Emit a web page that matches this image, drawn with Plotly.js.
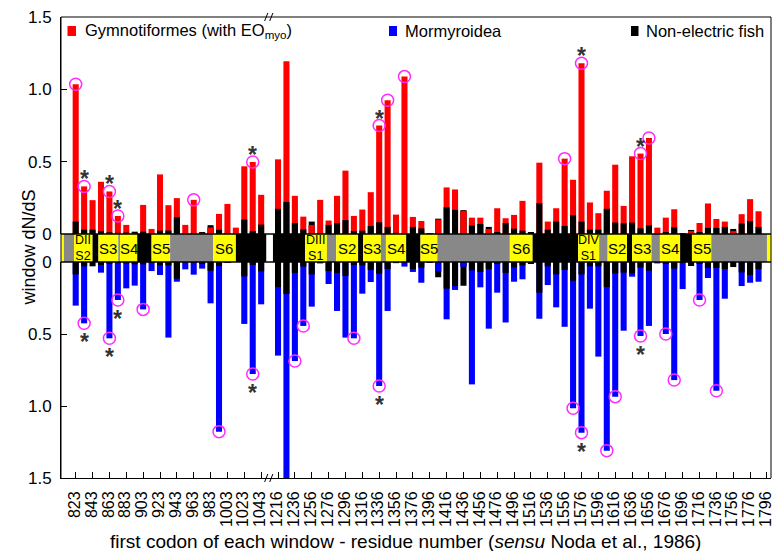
<!DOCTYPE html>
<html><head><meta charset="utf-8">
<script src="https://cdn.plot.ly/plotly-3.0.1.min.js"></script>
<style>html,body{margin:0;padding:0;background:#fff;}#chart{width:773px;height:551px;}</style>
</head><body><div id="chart"></div>
<script>
// ---------------- data ----------------
const windows = [823,833,843,853,863,873,883,893,903,913,923,933,943,953,963,973,983,993,1003,1013,1023,1033,1043,
  1216,1226,1236,1246,1256,1266,1276,1286,1296,1306,1316,1326,1336,1346,1356,1366,1376,1386,1396,1406,1416,1426,1436,1446,
  1456,1466,1476,1486,1496,1506,1516,1526,1536,1546,1556,1566,1576,1586,1596,1606,1616,1626,1636,1646,1656,1666,1676,1686,
  1696,1706,1716,1726,1736,1746,1756,1766,1776,1786];
const gymnotiformes = [1.035,0.329,0.234,0.361,0.294,0.125,0.063,0.005,0.201,0.035,0.412,0.199,0.248,0.063,0.236,0.008,0.045,0.139,0.208,0.044,0.468,0.498,0.271,
  0.516,1.194,0.264,0.120,0.062,0.236,0.093,0.264,0.438,0.125,0.169,0.289,0.750,0.924,0.134,1.088,0.118,0.090,0.003,0.100,0.322,0.308,0.160,0.113,
  0.113,0.035,0.178,0.109,0.132,0.229,0.000,0.493,0.086,0.178,0.521,0.375,1.180,0.218,0.144,0.299,0.479,0.194,0.537,0.556,0.664,0.044,0.113,0.171,
  0.005,0.020,0.076,0.211,0.104,0.086,0.020,0.137,0.241,0.157];
const mormyroidea = [0.303,0.426,0.000,0.074,0.530,0.264,0.183,0.164,0.329,0.063,0.090,0.525,0.137,0.051,0.088,0.046,0.287,1.178,0.005,0.000,0.430,0.778,0.294,
  0.650,1.550,0.688,0.444,0.310,0.010,0.153,0.340,0.525,0.530,0.220,0.139,0.861,0.340,0.000,0.032,0.069,0.144,0.000,0.065,0.398,0.194,0.032,0.850,
  0.176,0.463,0.213,0.420,0.137,0.120,0.000,0.394,0.160,0.315,0.450,1.016,1.185,0.324,0.657,1.310,0.935,0.477,0.102,0.514,0.444,0.010,0.500,0.820,
  0.188,0.000,0.264,0.111,0.894,0.255,0.000,0.167,0.144,0.137];
const nonElectric = [0.086,0.030,0.030,0.021,0.012,0.008,0.010,0.016,0.016,0.006,0.023,0.024,0.116,0.000,0.005,0.014,0.061,0.029,0.006,0.000,0.100,0.020,0.065,
  0.174,0.222,0.076,0.032,0.086,0.005,0.063,0.076,0.097,0.021,0.023,0.056,0.081,0.049,0.008,0.000,0.049,0.039,0.007,0.106,0.185,0.167,0.165,0.058,
  0.069,0.049,0.014,0.076,0.037,0.023,0.014,0.213,0.030,0.086,0.056,0.130,0.086,0.030,0.030,0.174,0.079,0.074,0.079,0.039,0.060,0.000,0.014,0.046,
  0.005,0.028,0.014,0.042,0.042,0.049,0.035,0.072,0.090,0.049];
const tickLabels = ['823','843','863','883','903','923','943','963','983','1003','1023','1043',
  '1216','1236','1256','1276','1296','1316','1336','1356','1376','1396','1416','1436','1456','1476','1496','1516','1536','1556',
  '1576','1596','1616','1636','1656','1676','1696','1716','1736','1756','1776','1796'];
const yTickLabels = ['0','0.5','1.0','1.5'];
const yTickValues = [0,0.5,1,1.5];
const circledTop = [823,833,863,873,963,1033,1336,1346,1366,1556,1576,1646,1656];
const starredTop = [833,863,873,1033,1336,1576,1646];
const circledBottom = [833,863,873,903,993,1033,1236,1246,1306,1336,1566,1576,1606,1616,1646,1676,1686,1716,1736];
const starredBottom = [833,863,873,1033,1336,1576,1646];
// domain band (residue numbers)
const bandFrom = [806,809,821,843,850,873.5,875.5,896,913,935,986,1013,1210,1248,1274,1285,1311,1317,1338,1344,1368,1385,1405,1491,1518,1572,1597,1607,1630,1636,1659,1669,1693,1707,1730,1796];
const bandTo   = [809,821,843,850,873.5,875.5,896,913,935,986,1013,1049,1248,1274,1285,1311,1317,1338,1344,1368,1385,1405,1491,1518,1572,1597,1607,1630,1636,1659,1669,1693,1707,1730,1796,1803];
const bandKind = ['h','l','h','d','h','l','h','d','h','l','h','d','d','h','l','h','d','h','l','h','d','h','l','h','d','h','l','h','d','h','l','h','d','h','l','h'];
const bandText = ['','','DII\nS2','','S3','','S4','','S5','','S6','','','DIII\nS1','','S2','','S3','','S4','','S5','','S6','','DIV\nS1','','S2','','S3','','S4','','S5','',''];
const legendNames = ['Gymnotiformes (with EO<sub>myo</sub>)','Mormyroidea','Non-electric fish'];

// ---------------- geometry / style ----------------
const W=773,H=551,L=61,R=2,T=17,B=73;
const plotW=W-L-R, plotH=H-T-B;
const px = x => (x-L)/plotW;
const py = y => (H-B-y)/plotH;
const bandTopPx=234, bandBotPx=262;
const slot0Px=75.7, slotPx=8.43;
function slot(r){ return r < 1100 ? (r-823)/10 : 24 + (r-1216)/10; }
const FONT='Liberation Sans, Arial, sans-serif';
const RED='#ff0000', BLUE='#0000ff', BLACK='#000000', MAG='#ff2cff';
const kindColor = {h:'#ffff00', l:'#888888', d:'#000000'};

const xs = windows.map(slot);
const idx = w => windows.indexOf(w);
const redFront = gymnotiformes.map((v,i)=> v < nonElectric[i] ? v : null);
const blueFront = mormyroidea.map((v,i)=> v < nonElectric[i] ? v : null);

function bar(y, color, ya){
  return {type:'bar', x:xs, y:y, width:0.72, marker:{color:color, line:{width:0}},
    xaxis:'x', yaxis:ya, showlegend:false, hoverinfo:'skip'};
}
const traces = [
  bar(gymnotiformes, RED, 'y'), bar(nonElectric, BLACK, 'y'), bar(redFront, RED, 'y'),
  bar(mormyroidea, BLUE, 'y2'), bar(nonElectric, BLACK, 'y2'), bar(blueFront, BLUE, 'y2'),
  {type:'scatter', mode:'markers', x:circledTop.map(slot), y:circledTop.map(w=>gymnotiformes[idx(w)]),
   xaxis:'x', yaxis:'y', cliponaxis:false, showlegend:false, hoverinfo:'skip',
   marker:{symbol:'circle-open', size:12, color:MAG, line:{width:1.5, color:MAG}}},
  {type:'scatter', mode:'markers', x:circledBottom.map(slot), y:circledBottom.map(w=>mormyroidea[idx(w)]),
   xaxis:'x', yaxis:'y2', cliponaxis:false, showlegend:false, hoverinfo:'skip',
   marker:{symbol:'circle-open', size:12, color:MAG, line:{width:1.5, color:MAG}}}
];

const tickVals = tickLabels.map(t=>slot(+t));
const shapes = [], annotations = [];
// band segments
bandFrom.forEach((f,i)=>{
  shapes.push({type:'rect', xref:'x', yref:'paper', x0:slot(f), x1:slot(bandTo[i]), y0:py(bandBotPx), y1:py(bandTopPx),
    fillcolor:kindColor[bandKind[i]], line:{width:0}, layer:'above'});
  if(bandText[i]){
    const two = bandText[i].indexOf('\n')>=0;
    const cx = (slot(f)+slot(bandTo[i]))/2;
    annotations.push({xref:'x', yref:'paper', x:cx, y:py(248), text:bandText[i].replace('\n','<br>'), showarrow:false,
      xanchor:'center', yanchor:'middle', font:{family:FONT, size: two ? 12.5 : 15, color:'#000'}});
  }
});
// band borders and frame
shapes.push({type:'line', xref:'paper', yref:'paper', x0:0, x1:1, y0:py(bandTopPx), y1:py(bandTopPx), line:{color:'#000', width:1.5}, layer:'above'});
shapes.push({type:'line', xref:'paper', yref:'paper', x0:0, x1:1, y0:py(bandBotPx), y1:py(bandBotPx), line:{color:'#000', width:1.5}, layer:'above'});
shapes.push({type:'line', xref:'paper', yref:'paper', x0:0, x1:1, y0:1, y1:1, line:{color:'#000', width:1}});
shapes.push({type:'line', xref:'paper', yref:'paper', x0:0, x1:0, y0:0, y1:1, line:{color:'#000', width:1}});
shapes.push({type:'line', xref:'paper', yref:'paper', x0:1, x1:1, y0:0, y1:1, line:{color:'#000', width:1}});
// axis break marks
[1, 0].forEach(yy=>{
  [22.6, 23.2].forEach(sx=>{
    shapes.push({type:'line', xref:'x', yref:'paper', xsizemode:'pixel', ysizemode:'pixel', xanchor:sx, yanchor:yy,
      x0:-1.6, x1:1.6, y0:-4, y1:4, line:{color:'#000', width:1}});
  });
});
// asterisks
starredTop.forEach(w=>annotations.push({xref:'x', yref:'y', x:slot(w), y:gymnotiformes[idx(w)], text:'<b>*</b>', showarrow:false,
  xanchor:'center', yanchor:'middle', yshift:7, font:{family:FONT, size:23, color:'#333'}}));
starredBottom.forEach(w=>annotations.push({xref:'x', yref:'y2', x:slot(w), y:mormyroidea[idx(w)], text:'<b>*</b>', showarrow:false,
  xanchor:'center', yanchor:'middle', yshift:-19, font:{family:FONT, size:23, color:'#333'}}));
// legend
const legBoxes = [[67.5,76,RED],[389,397,BLUE],[631,638.5,BLACK]];
const legTextX = [83,403,644];
legBoxes.forEach((b,i)=>{
  shapes.push({type:'rect', xref:'paper', yref:'paper', x0:px(b[0]), x1:px(b[1]), y0:py(36), y1:py(26), fillcolor:b[2], line:{width:0}});
  annotations.push({xref:'paper', yref:'paper', x:px(legTextX[i]), y:py(30.5), text:legendNames[i], showarrow:false,
    xanchor:'left', yanchor:'middle', font:{family:FONT, size:16.5, color:'#000'}});
});
// axis titles
annotations.push({xref:'paper', yref:'paper', x:px(405.5), y:py(541), text:'first codon of each window - residue number (<i>sensu</i> Noda et al., 1986)',
  showarrow:false, xanchor:'center', yanchor:'middle', font:{family:FONT, size:19, color:'#000'}});
annotations.push({xref:'paper', yref:'paper', x:px(28.5), y:py(248), text:'window dN/dS', textangle:-90,
  showarrow:false, xanchor:'center', yanchor:'middle', font:{family:FONT, size:18, color:'#000'}});

const yCommon = {tickmode:'array', tickvals:yTickValues, ticktext:yTickLabels, ticks:'inside', ticklen:6, tickcolor:'#000',
  showline:true, linecolor:'#000', linewidth:1, showgrid:false, zeroline:false, anchor:'x',
  tickfont:{family:FONT, size:17, color:'#000'}, ticklabelstandoff:5};

const layout = {
  width:W, height:H, margin:{l:L, r:R, t:T, b:B, pad:0}, paper_bgcolor:'#fff', plot_bgcolor:'#fff',
  barmode:'overlay', showlegend:false, hovermode:false,
  xaxis:{range:[(L-slot0Px)/slotPx, (W-R-slot0Px)/slotPx], tickmode:'array', tickvals:tickVals, ticktext:tickLabels,
    tickangle:-90, ticks:'inside', ticklen:6, tickcolor:'#000', showline:true, linecolor:'#000', linewidth:1,
    showgrid:false, zeroline:false, anchor:'y2', tickfont:{family:FONT, size:16, color:'#000'}, ticklabelstandoff:6,
    ticklabeloverflow:'allow', ticklabelshift:-1},
  yaxis: Object.assign({}, yCommon, {domain:[py(bandTopPx), 1], range:[0, 1.5]}),
  yaxis2: Object.assign({}, yCommon, {domain:[0, py(bandBotPx)], range:[1.5, 0]}),
  shapes:shapes, annotations:annotations
};
Plotly.newPlot('chart', traces, layout, {staticPlot:true, displayModeBar:false});
</script></body></html>
